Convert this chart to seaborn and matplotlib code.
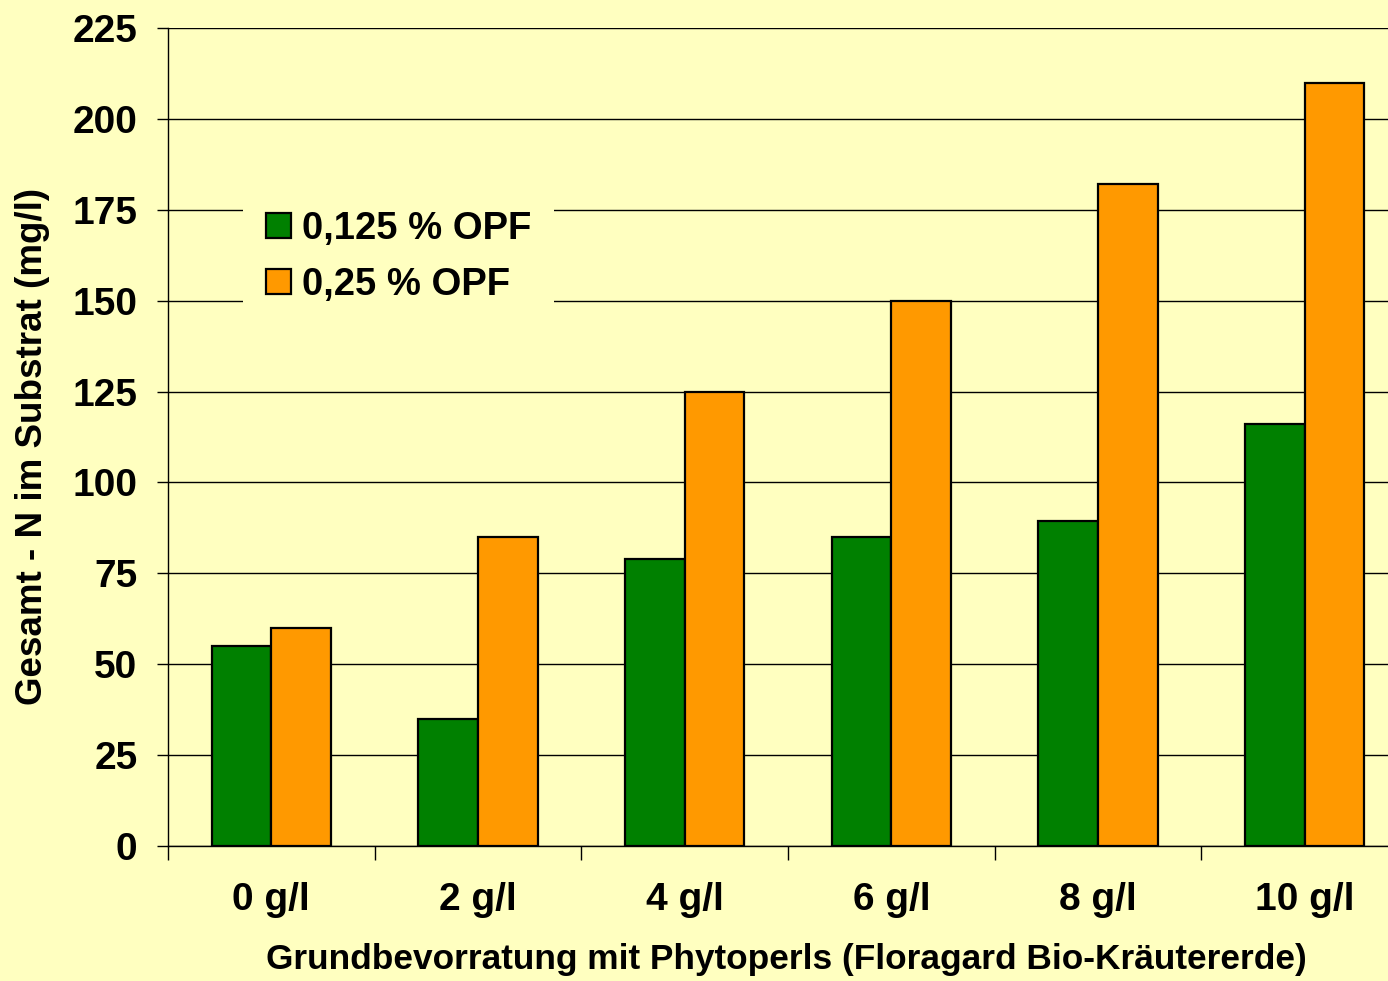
import matplotlib
matplotlib.use("Agg")
import matplotlib.pyplot as plt
from matplotlib.patches import Patch
from matplotlib.ticker import FixedLocator
import seaborn as sns
import pandas as pd

categories = ["0 g/l", "2 g/l", "4 g/l", "6 g/l", "8 g/l", "10 g/l"]
series_names = ["0,125 % OPF", "0,25 % OPF"]
values_0125 = [55, 35, 79, 85, 89.5, 116]
values_025 = [60, 85, 125, 150, 182, 210]
y_ticks = [0, 25, 50, 75, 100, 125, 150, 175, 200, 225]

BG = "#FFFFC0"
GREEN = "#008000"
ORANGE = "#FF9900"

df = pd.DataFrame({
    "cat": categories * 2,
    "val": values_0125 + values_025,
    "series": [series_names[0]] * len(categories) + [series_names[1]] * len(categories),
})

sns.set_theme(style="white")
plt.rcParams["font.family"] = ["Liberation Sans", "DejaVu Sans"]
plt.rcParams["font.weight"] = "bold"
plt.rcParams["text.color"] = "black"
plt.rcParams["axes.labelcolor"] = "black"
plt.rcParams["xtick.color"] = "black"
plt.rcParams["ytick.color"] = "black"
plt.rcParams["xtick.labelcolor"] = "black"
plt.rcParams["ytick.labelcolor"] = "black"

fig = plt.figure(figsize=(13.88, 9.81), dpi=100, facecolor=BG)
W, H = 1388, 981
ax = fig.add_axes([168 / W, (H - 846) / H, 1240 / W, 818 / H])
ax.set_facecolor(BG)

sns.barplot(data=df, x="cat", y="val", hue="series", order=categories,
            hue_order=series_names, palette=[GREEN, ORANGE], saturation=1,
            width=0.576, edgecolor="black", linewidth=1.6, ax=ax, legend=False,
            errorbar=None)

ax.set_ylim(0, 225)
ax.set_xlim(-0.5, 5.5)
ax.set_yticks(y_ticks)
ax.set_yticklabels([str(t) for t in y_ticks], fontsize=28, fontweight="bold",
                   color="black")
ax.tick_params(axis="y", which="major", direction="out", length=8, width=1,
               color="black", pad=14, left=True)
ax.set_xticks(range(len(categories)))
ax.set_xticklabels(categories, fontsize=28, fontweight="bold", color="black")
ax.tick_params(axis="x", which="major", length=0, pad=26, bottom=True)
ax.xaxis.set_minor_locator(FixedLocator([i - 0.5 for i in range(len(categories) + 1)]))
ax.tick_params(axis="x", which="minor", direction="out", length=10, width=1,
               color="black", bottom=True)

ax.yaxis.grid(True, color="black", linewidth=1)
ax.xaxis.grid(False)
ax.set_axisbelow(True)

for s in ["top", "right"]:
    ax.spines[s].set_visible(False)
for s in ["left", "bottom"]:
    ax.spines[s].set_visible(True)
    ax.spines[s].set_color("black")
    ax.spines[s].set_linewidth(1)

ax.set_ylabel("Gesamt - N im Substrat (mg/l)", fontsize=26.5, fontweight="bold",
              va="center", color="black")
ax.yaxis.set_label_coords((33 - 168) / 1240, (846 - 446.5) / 818)
ax.set_xlabel("Grundbevorratung mit Phytoperls (Floragard Bio-Kräutererde)",
              fontsize=25.4, fontweight="bold", va="center", color="black")
ax.xaxis.set_label_coords((786.5 - 168) / 1240, (846 - 960) / 818)

handles = [Patch(facecolor=GREEN, edgecolor="black", linewidth=1.6),
           Patch(facecolor=ORANGE, edgecolor="black", linewidth=1.6)]
leg = ax.legend(handles, series_names, loc="upper left",
                bbox_to_anchor=(243 / W, 1 - 188 / H), bbox_transform=fig.transFigure,
                prop={"size": 27.5, "weight": "bold"}, frameon=True,
                facecolor=BG, edgecolor=BG, framealpha=1, fancybox=False,
                borderaxespad=0, borderpad=0.6, handlelength=0.65, handleheight=0.65,
                handletextpad=0.3, labelspacing=0.52, labelcolor="black")
leg.get_frame().set_linewidth(0)

fig.savefig("out.png", dpi=100, facecolor=BG)
